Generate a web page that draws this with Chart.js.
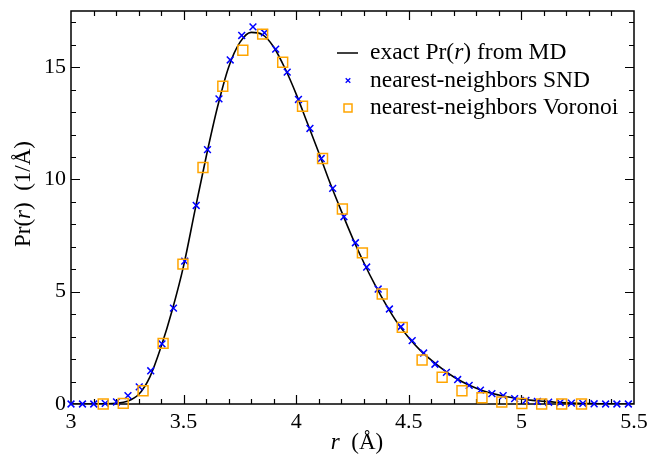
<!DOCTYPE html>
<html>
<head>
<meta charset="utf-8">
<script src="https://cdn.jsdelivr.net/npm/chart.js@4/dist/chart.umd.min.js"></script>
<style>
  html, body { margin: 0; padding: 0; background: #fff; }
  #plot { display: block; }
</style>
</head>
<body>
<canvas id="plot" width="651" height="459"></canvas>
<script>
// Nearest-neighbour distance distribution Pr(r)

// exact distribution from MD (smooth curve)
const curveR = [3.00,3.05,3.10,3.15,3.20,3.25,3.30,3.35,3.40,3.45,3.50,3.55,3.60,3.65,3.70,3.75,3.80,3.85,3.90,3.95,
                4.00,4.05,4.10,4.15,4.20,4.25,4.30,4.35,4.40,4.45,4.50,4.55,4.60,4.65,4.70,4.75,4.80,4.85,4.90,4.95,
                5.00,5.05,5.10,5.15,5.20,5.25,5.30,5.35,5.40,5.45,5.50];
const curveP = [0,0,0,0.005,0.03,0.12,0.42,1.2,2.55,4.2,6.15,8.6,11.0,13.2,15.0,16.1,16.55,16.45,15.9,14.95,
                13.8,12.5,11.2,9.85,8.6,7.4,6.3,5.3,4.4,3.6,2.95,2.4,1.95,1.55,1.2,0.92,0.7,0.52,0.4,0.3,
                0.22,0.16,0.12,0.08,0.05,0.03,0.02,0.01,0.005,0,0];

// nearest-neighbors SND estimate
const sndR = [3.000,3.051,3.101,3.152,3.202,3.253,3.303,3.354,3.404,3.455,3.505,3.556,3.606,3.657,3.707,3.758,3.808,3.859,3.909,3.960,
              4.010,4.061,4.111,4.162,4.212,4.263,4.313,4.364,4.414,4.465,4.515,4.566,4.616,4.667,4.717,4.768,4.818,4.869,4.919,4.970,
              5.020,5.071,5.121,5.172,5.222,5.273,5.323,5.374,5.424,5.475];
const sndP = [0,0,0,0.03,0.09,0.37,0.76,1.48,2.68,4.27,6.36,8.84,11.33,13.59,15.32,16.41,16.79,16.53,15.80,14.78,
              13.56,12.27,10.93,9.60,8.34,7.18,6.10,5.12,4.23,3.44,2.82,2.27,1.77,1.41,1.09,0.83,0.62,0.46,0.37,0.24,
              0.16,0.12,0.08,0.06,0.04,0.03,0.01,0,0,0];

// nearest-neighbors Voronoi estimate
const voroR = [3.143,3.232,3.320,3.409,3.497,3.586,3.674,3.763,3.851,3.940,4.028,4.117,4.205,4.294,4.382,4.471,4.559,4.648,4.736,4.825,
               4.913,5.002,5.090,5.179,5.267];
const voroP = [0,0.03,0.59,2.70,6.23,10.53,14.15,15.75,16.47,15.22,13.26,10.93,8.68,6.73,4.90,3.41,1.96,1.19,0.59,0.28,
               0.09,0.02,0,0,0];

// axis ranges and tick spacing
const xRange = [3, 5.5], xMajor = 0.5, xMinor = 0.1;
const yRange = [0, 17.5], yMajor = 5, yMinor = 1;

const SERIF = '"Liberation Serif", "Times New Roman", serif';
const BLUE = '#0000ff', ORANGE = '#ffa500';

const pts = (xs, ys) => xs.map((x, i) => ({ x, y: ys[i] }));

// draw a string made of roman / italic runs
function richWidth(ctx, parts, size) {
  let w = 0;
  for (const p of parts) {
    ctx.font = (p.i ? 'italic ' : '') + size + 'px ' + SERIF;
    w += ctx.measureText(p.t).width;
  }
  return w;
}
function drawRich(ctx, parts, x, y, size, align) {
  let cx = x;
  if (align === 'center') cx = x - richWidth(ctx, parts, size) / 2;
  ctx.textAlign = 'left';
  ctx.textBaseline = 'middle';
  for (const p of parts) {
    ctx.font = (p.i ? 'italic ' : '') + size + 'px ' + SERIF;
    ctx.fillText(p.t, cx, y);
    cx += ctx.measureText(p.t).width;
  }
}

// frame with inward ticks on all four sides
const framePlugin = {
  id: 'frame',
  beforeDatasetsDraw(chart) {
    const { ctx, chartArea: a, scales: { x, y } } = chart;
    ctx.save();
    ctx.strokeStyle = '#000';
    ctx.lineWidth = 1.5;
    ctx.strokeRect(a.left, a.top, a.right - a.left, a.bottom - a.top);
    ctx.lineWidth = 1.2;
    ctx.beginPath();
    const nx = Math.round((xRange[1] - xRange[0]) / xMinor);
    for (let k = 1; k < nx; k++) {
      const v = xRange[0] + k * xMinor;
      const major = Math.abs(v / xMajor - Math.round(v / xMajor)) < 1e-6;
      const len = major ? 9 : 5;
      const px = Math.round(x.getPixelForValue(v)) + 0.5;
      ctx.moveTo(px, a.bottom); ctx.lineTo(px, a.bottom - len);
      ctx.moveTo(px, a.top); ctx.lineTo(px, a.top + len);
    }
    const ny = Math.floor((yRange[1] - yRange[0]) / yMinor + 1e-6);
    for (let k = 1; k <= ny; k++) {
      const v = yRange[0] + k * yMinor;
      const major = Math.abs(v / yMajor - Math.round(v / yMajor)) < 1e-6;
      const len = major ? 9 : 5;
      const py = Math.round(y.getPixelForValue(v)) + 0.5;
      ctx.moveTo(a.left, py); ctx.lineTo(a.left + len, py);
      ctx.moveTo(a.right, py); ctx.lineTo(a.right - len, py);
    }
    ctx.stroke();
    ctx.restore();
  },
  afterDraw(chart) {
    const { ctx, chartArea: a } = chart;
    ctx.save();
    ctx.fillStyle = '#000';
    // axis titles
    drawRich(ctx, [{ t: 'r', i: true }, { t: '  (Å)' }], 357, 443, 23, 'center');
    ctx.save();
    ctx.translate(24, 194);
    ctx.rotate(-Math.PI / 2);
    drawRich(ctx, [{ t: 'Pr(' }, { t: 'r', i: true }, { t: ')  (1/Å)' }], 0, 0, 23, 'center');
    ctx.restore();

    // legend
    const tx = 370, rows = [53, 80.5, 108];
    const fs = 23.5;
    drawRich(ctx, [{ t: 'exact Pr(' }, { t: 'r', i: true }, { t: ') from MD' }], tx, rows[0], fs, 'left');
    drawRich(ctx, [{ t: 'nearest-neighbors SND' }], tx, rows[1], fs, 'left');
    drawRich(ctx, [{ t: 'nearest-neighbors Voronoi' }], tx, rows[2], fs, 'left');
    ctx.strokeStyle = '#000';
    ctx.lineWidth = 1.5;
    ctx.beginPath(); ctx.moveTo(337, rows[0]); ctx.lineTo(358, rows[0]); ctx.stroke();
    ctx.strokeStyle = BLUE;
    ctx.lineWidth = 1.3;
    const mx = 348, d = 2.3;
    ctx.beginPath();
    ctx.moveTo(mx - d, rows[1] - d); ctx.lineTo(mx + d, rows[1] + d);
    ctx.moveTo(mx - d, rows[1] + d); ctx.lineTo(mx + d, rows[1] - d);
    ctx.stroke();
    ctx.strokeStyle = ORANGE;
    ctx.lineWidth = 1.5;
    ctx.strokeRect(mx - 4, rows[2] - 4, 8, 8);
    ctx.restore();
  }
};

new Chart(document.getElementById('plot'), {
  type: 'scatter',
  data: {
    datasets: [
      {
        label: 'exact Pr(r) from MD',
        data: pts(curveR, curveP),
        showLine: true,
        borderColor: '#000',
        borderWidth: 1.6,
        pointRadius: 0,
        cubicInterpolationMode: 'monotone',
        order: 3
      },
      {
        label: 'nearest-neighbors SND',
        data: pts(sndR, sndP),
        pointStyle: 'crossRot',
        pointRadius: 4.8,
        borderColor: BLUE,
        borderWidth: 1.5,
        clip: 10,
        order: 2
      },
      {
        label: 'nearest-neighbors Voronoi',
        data: pts(voroR, voroP),
        pointStyle: 'rect',
        pointRadius: 7,
        borderColor: ORANGE,
        backgroundColor: 'rgba(0,0,0,0)',
        borderWidth: 1.5,
        clip: 10,
        order: 1
      }
    ]
  },
  options: {
    responsive: false,
    animation: false,
    devicePixelRatio: 1,
    events: [],
    layout: { padding: { left: 0, right: 17, top: 11, bottom: 0 } },
    plugins: { legend: { display: false }, tooltip: { enabled: false } },
    scales: {
      x: {
        type: 'linear', min: xRange[0], max: xRange[1],
        grid: { display: false, drawTicks: false },
        border: { display: false },
        ticks: { stepSize: xMajor, includeBounds: false, padding: 5, color: '#000', maxRotation: 0,
                 font: { family: SERIF, size: 22 },
                 callback: v => String(Math.round(v * 10) / 10) },
        afterFit(s) { s.height = 55; s.paddingLeft = 0; s.paddingRight = 0; }
      },
      y: {
        type: 'linear', min: yRange[0], max: yRange[1],
        grid: { display: false, drawTicks: false },
        border: { display: false },
        ticks: { stepSize: yMajor, includeBounds: false, padding: 5, color: '#000',
                 font: { family: SERIF, size: 22 } },
        afterFit(s) { s.width = 71; s.paddingTop = 0; s.paddingBottom = 0; }
      }
    }
  },
  plugins: [framePlugin]
});
</script>
</body>
</html>
